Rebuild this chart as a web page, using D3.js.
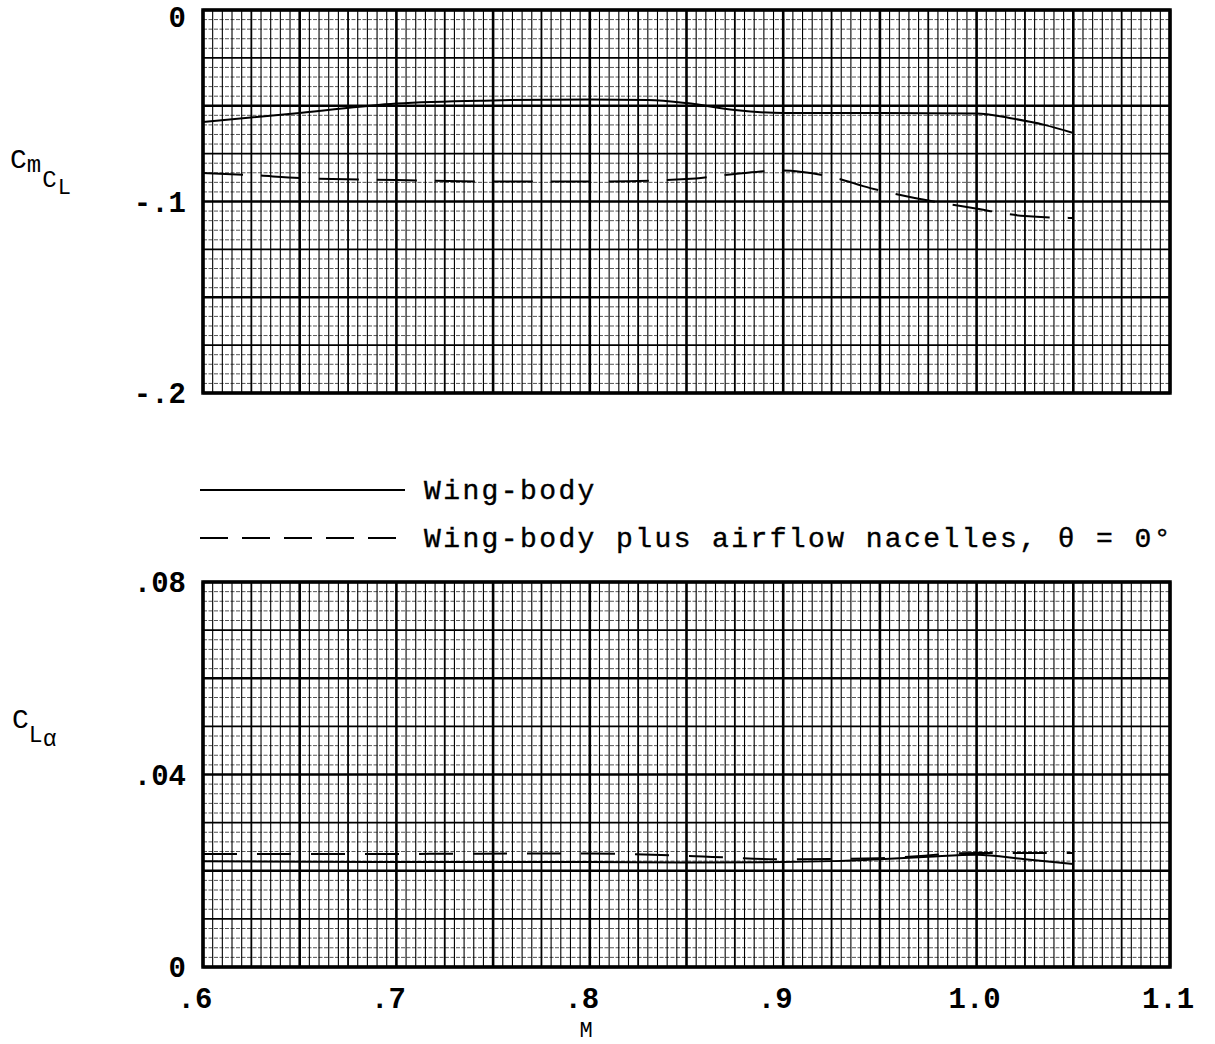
<!DOCTYPE html>
<html>
<head>
<meta charset="utf-8">
<title>Cm_CL and CL_alpha vs M</title>
<script src="https://d3js.org/d3.v7.min.js"></script>
<style>
  body { margin: 0; background: #fff; }
  text { font-family: "Liberation Mono", "DejaVu Sans Mono", monospace; fill: #000; }
</style>
</head>
<body>
<div id="chart"></div>
<script>
// ---- data ----
const xTicks = [0.6, 0.7, 0.8, 0.9, 1.0, 1.1];
const xTickLabels = [".6", ".7", ".8", ".9", "1.0", "1.1"];

const cmTicks = [0, -0.1, -0.2];
const cmTickLabels = ["0", "-.1", "-.2"];
const claTicks = [0.08, 0.04, 0];
const claTickLabels = [".08", ".04", "0"];

// Cm_CL, wing-body (solid)
const cmWbMach = [0.6, 0.65, 0.7, 0.75, 0.8, 0.83, 0.85, 0.875, 0.9, 0.95, 1.0, 1.017, 1.035, 1.05];
const cmWb = [-0.0585, -0.0538, -0.0488, -0.0472, -0.0467, -0.047, -0.0486, -0.0522, -0.0538, -0.0538, -0.054, -0.0564, -0.060, -0.0642];
// Cm_CL, wing-body plus nacelles (dashed)
const cmNacMach = [0.6, 0.625, 0.65, 0.7, 0.75, 0.8, 0.85, 0.875, 0.9, 0.91, 0.925, 0.945, 0.968, 0.998, 1.025, 1.05];
const cmNac = [-0.0851, -0.0862, -0.0877, -0.0888, -0.0896, -0.0896, -0.0883, -0.0856, -0.0838, -0.0846, -0.0872, -0.093, -0.0982, -0.1034, -0.1076, -0.1086];

// CL_alpha, wing-body (solid)
const claWbMach = [0.6, 0.7, 0.8, 0.85, 0.9, 0.925, 0.95, 0.975, 1.0, 1.025, 1.05];
const claWb = [0.0220, 0.0218, 0.0218, 0.0217, 0.0218, 0.0220, 0.0224, 0.0229, 0.0233, 0.0224, 0.0214];
// CL_alpha, wing-body plus nacelles (dashed)
const claNacMach = [0.6, 0.7, 0.8, 0.85, 0.9, 0.95, 1.0, 1.05];
const claNac = [0.0235, 0.0235, 0.0236, 0.0231, 0.0224, 0.0226, 0.0237, 0.0237];

const legendLabels = ["Wing-body", "Wing-body plus airflow nacelles, \u03b8 = 0\u00b0"];

// ---- layout ----
const W = 1215, H = 1044;
const svg = d3.select("#chart").append("svg")
  .attr("width", W).attr("height", H);

const x = d3.scaleLinear().domain([0.6, 1.1]).range([203, 1170]);
const yTop = d3.scaleLinear().domain([-0.2, 0]).range([393, 10]);
const yBot = d3.scaleLinear().domain([0, 0.08]).range([967, 582]);

const fontSize = 29;

// graph paper: 10 minor per major, medium line at 5
function paper(y, majorY) {
  const g = svg.append("g");
  const [x0, x1] = x.domain();
  const [y0, y1] = y.domain();
  const xMinor = 0.05 / 10, yMinor = majorY / 10;
  const nx = Math.round((x1 - x0) / xMinor), ny = Math.round((y1 - y0) / yMinor);

  const horiz = d3.range(ny + 1).map(i => ({v: y0 + i * yMinor, k: i % 10 === 0 ? 2 : i % 5 === 0 ? 1 : 0}));
  const vert = d3.range(nx + 1).map(i => ({v: x0 + i * xMinor, k: i % 10 === 0 ? 2 : i % 5 === 0 ? 1 : 0}));

  g.selectAll("line.h").data(horiz).enter().append("line")
    .attr("x1", x.range()[0]).attr("x2", x.range()[1])
    .attr("y1", d => y(d.v)).attr("y2", d => y(d.v))
    .attr("stroke", d => d.k ? "#000" : "#555")
    .attr("stroke-width", d => d.k === 2 ? 2.6 : d.k === 1 ? 1.6 : 1)
    .attr("stroke-dasharray", d => d.k ? null : "4,1.5");

  g.selectAll("line.v").data(vert).enter().append("line")
    .attr("y1", y.range()[0]).attr("y2", y.range()[1])
    .attr("x1", d => x(d.v)).attr("x2", d => x(d.v))
    .attr("stroke", "#000")
    .attr("stroke-width", d => d.k === 2 ? 2.6 : d.k === 1 ? 1.8 : 1.1);

  g.append("rect")
    .attr("x", x.range()[0]).attr("y", y.range()[1])
    .attr("width", x.range()[1] - x.range()[0])
    .attr("height", y.range()[0] - y.range()[1])
    .attr("fill", "none").attr("stroke", "#000").attr("stroke-width", 3.5);
}

function series(y, mach, vals, dash) {
  const pts = mach.map((m, i) => [m, vals[i]]);
  const line = d3.line().x(d => x(d[0])).y(d => y(d[1])).curve(d3.curveMonotoneX);
  svg.append("path").datum(pts)
    .attr("d", line)
    .attr("fill", "none").attr("stroke", "#000")
    .attr("stroke-width", 2)
    .attr("stroke-dasharray", dash);
}

function yLabels(y, ticks, labels) {
  svg.append("g").selectAll("text").data(ticks).enter().append("text")
    .attr("x", 186).attr("y", d => Math.max(y(d) + 10, 27))
    .attr("text-anchor", "end")
    .attr("font-size", fontSize).attr("font-weight", "bold")
    .text((d, i) => labels[i]);
}

paper(yTop, 0.05);
paper(yBot, 0.02);

series(yTop, cmWbMach, cmWb, null);
series(yTop, cmNacMach, cmNac, "40,18");
series(yBot, claWbMach, claWb, null);
series(yBot, claNacMach, claNac, "34,20");

yLabels(yTop, cmTicks, cmTickLabels);
yLabels(yBot, claTicks, claTickLabels);

// x tick labels
svg.append("g").selectAll("text").data(xTicks).enter().append("text")
  .attr("x", (d, i) => x(d) + (xTickLabels[i][0] === "." ? -8 : -2))
  .attr("y", 1008)
  .attr("text-anchor", "middle")
  .attr("font-size", fontSize).attr("font-weight", "bold")
  .text((d, i) => xTickLabels[i]);

svg.append("text").attr("x", 586).attr("y", 1037)
  .attr("text-anchor", "middle").attr("font-size", 22)
  .text("M");

// axis titles
const t1 = svg.append("text").attr("x", 10).attr("y", 168).attr("font-size", 28);
t1.append("tspan").text("C");
t1.append("tspan").attr("dy", 4).attr("dx", 0).attr("font-size", 24).text("m");
t1.append("tspan").attr("dy", 15).attr("dx", 1).attr("font-size", 24).text("C");
t1.append("tspan").attr("dy", 7).attr("dx", 1).attr("font-size", 22).text("L");

const t2 = svg.append("text").attr("x", 12).attr("y", 728).attr("font-size", 28);
t2.append("tspan").text("C");
t2.append("tspan").attr("dy", 14).attr("dx", 0).attr("font-size", 23).text("L");
t2.append("tspan").attr("dy", 4).attr("dx", 0).attr("font-size", 23).text("\u03b1");

// legend
const leg = svg.append("g");
leg.append("line").attr("x1", 200).attr("x2", 405).attr("y1", 490).attr("y2", 490)
  .attr("stroke", "#000").attr("stroke-width", 2.2);
leg.append("line").attr("x1", 200).attr("x2", 405).attr("y1", 538).attr("y2", 538)
  .attr("stroke", "#000").attr("stroke-width", 2.2).attr("stroke-dasharray", "28,14");
leg.selectAll("text").data(legendLabels).enter().append("text")
  .attr("x", 424).attr("y", (d, i) => 499 + i * 48)
  .attr("font-size", 28).attr("letter-spacing", 2.4)
  .attr("stroke", "#000").attr("stroke-width", 0.4)
  .text(d => d);
</script>
</body>
</html>
